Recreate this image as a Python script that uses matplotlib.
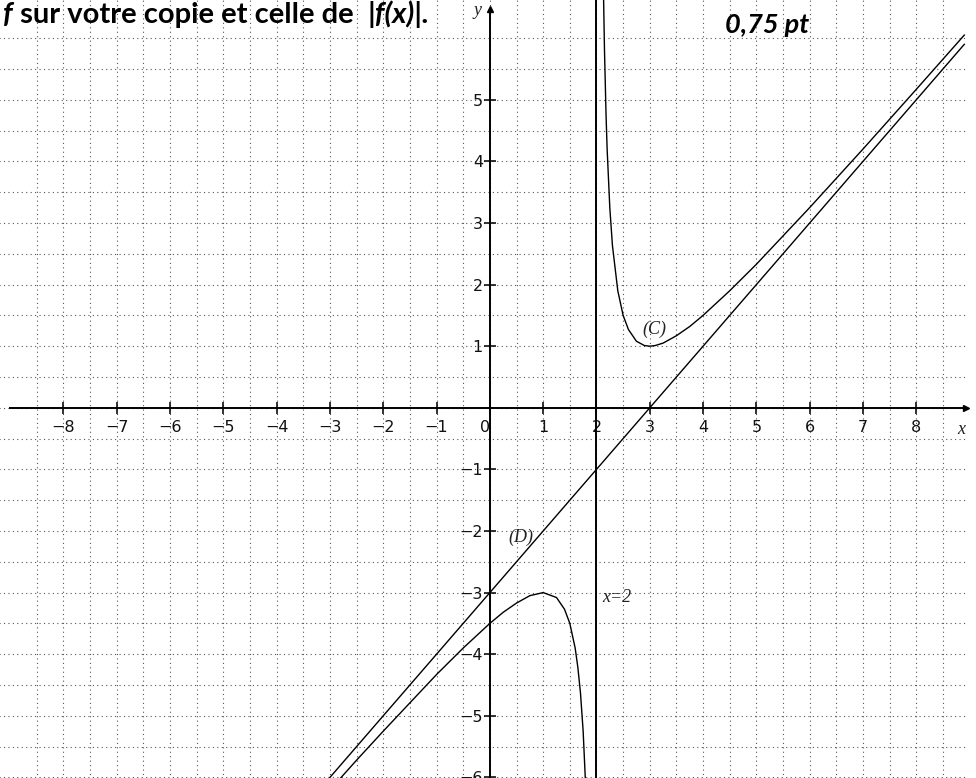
import numpy as np
import matplotlib
matplotlib.use('Agg')
import matplotlib.pyplot as plt

# courbe (C) : branche à droite de l'asymptote x = 2
c_right_x = [2.13, 2.15, 2.18, 2.2, 2.25, 2.3, 2.4, 2.5, 2.6, 2.75, 2.9, 3.0,
             3.1, 3.25, 3.5, 3.75, 4.0, 4.5, 5.0, 6.0, 7.0, 8.0, 8.9]
c_right_y = [6.82, 5.82, 4.74, 4.2, 3.25, 2.63, 1.9, 1.5, 1.27, 1.08, 1.01, 1.0,
             1.01, 1.05, 1.17, 1.32, 1.5, 1.9, 2.33, 3.25, 4.2, 5.17, 6.05]

# courbe (C) : branche à gauche
c_left_x = [-3.1, -2.5, -2.0, -1.5, -1.0, -0.5, 0.0, 0.25, 0.5, 0.75, 1.0,
            1.25, 1.4, 1.5, 1.6, 1.65, 1.7, 1.75, 1.8]
c_left_y = [-6.3, -5.72, -5.25, -4.79, -4.33, -3.9, -3.5, -3.32, -3.17, -3.05, -3.0,
            -3.08, -3.27, -3.5, -3.9, -4.21, -4.63, -5.25, -6.2]

# asymptote oblique (D) et asymptote verticale
d_x = [-3.2, 8.9]
d_y = [-6.2, 5.9]
asym_x = 2

x_ticks = list(range(-8, 9))
y_ticks = [-6, -5, -4, -3, -2, -1, 1, 2, 3, 4, 5]


def lab(v):
    return str(v).replace('-', '\u2212')


fig = plt.figure(figsize=(9.76, 7.78), dpi=100)
ax = fig.add_axes([0, 0, 1, 1])
ax.set_xlim(-9.19, 9.12)
ax.set_ylim(-6.01, 6.62)
ax.set_facecolor('white')

# quadrillage pointillé tous les 0,5
grid_kw = dict(color='#555555', lw=0.8, linestyles=(0, (1, 3)), zorder=1)
ax.vlines(np.arange(-8.5, 8.6, 0.5), -6.5, 6.7, **grid_kw)
ax.hlines(np.arange(-6, 6.1, 0.5), -9.5, 8.95, **grid_kw)

# axes du repère
for s in ['top', 'right']:
    ax.spines[s].set_visible(False)
ax.spines['left'].set_position(('data', 0))
ax.spines['bottom'].set_position(('data', 0))
ax.spines['bottom'].set_bounds(-9.0, 8.9)
ax.spines['left'].set_bounds(-6.2, 6.45)
for s in ['left', 'bottom']:
    ax.spines[s].set_linewidth(1.4)
    ax.spines[s].set_zorder(3)
ax.plot(8.93, 0, marker='>', ms=5, color='k', clip_on=False, zorder=4)
ax.plot(0, 6.47, marker='^', ms=5, color='k', clip_on=False, zorder=4)

ax.set_xticks(x_ticks)
ax.set_xticklabels([lab(v) for v in x_ticks])
ax.set_yticks(y_ticks)
ax.set_yticklabels([lab(v) for v in y_ticks])
ax.tick_params(axis='x', direction='inout', length=9, width=1.2, pad=4.5,
               labelsize=11.5, colors='#111111')
ax.tick_params(axis='y', direction='inout', length=9, width=1.2, pad=0.5,
               labelsize=11.5, colors='#111111')
for t in ax.get_xticklabels():
    if t.get_text() == '0':
        t.set_ha('right')

# courbes
ax.plot(c_right_x, c_right_y, color='k', lw=1.0, zorder=5)
ax.plot(c_left_x, c_left_y, color='k', lw=1.0, zorder=5)
ax.plot(d_x, d_y, color='k', lw=1.0, zorder=5)
ax.axvline(asym_x, color='k', lw=1.4, zorder=5)

serif = dict(family='Liberation Serif', style='italic', fontsize=13, color='#222222')
ax.text(3.08, 1.28, '(C)', ha='center', va='center', **serif)
ax.text(0.58, -2.11, '(D)', ha='center', va='center', **serif)
ax.text(2.38, -3.08, 'x=2', ha='center', va='center', **serif)
ax.text(-0.23, 6.45, 'y', ha='center', va='center', **serif)
ax.text(8.84, -0.36, 'x', ha='center', va='center', **serif)

# en-tête
head = dict(family='Lato', weight='bold', fontsize=21, color='black')
t1 = fig.text(0.003, 1 - 23 / 778, 'f', style='italic', va='baseline', **head)
t2 = ax.annotate(' sur votre copie et celle de  ', xy=(1, 0), xycoords=t1,
                 va='bottom', ha='left', annotation_clip=False, **head)
ax.annotate('|f(x)|.', xy=(1, 0), xycoords=t2, va='bottom', ha='left',
            style='italic', annotation_clip=False, **head)
fig.text(725 / 976, 1 - 33 / 778, '0,75 pt', style='italic', va='baseline',
         family='Lato', weight='bold', fontsize=19.5, color='black')

fig.savefig('out.png', dpi=100)
